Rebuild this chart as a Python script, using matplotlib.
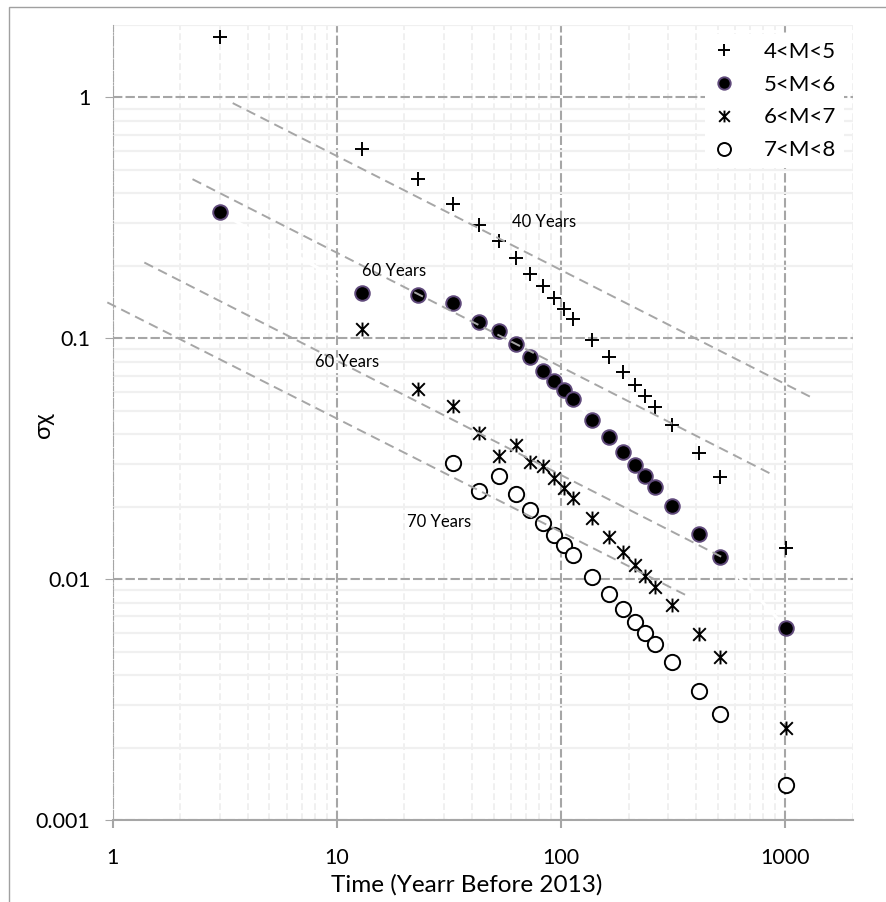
import numpy as np
import matplotlib
matplotlib.use('Agg')
import matplotlib.pyplot as plt
from matplotlib.path import Path
from matplotlib.patches import Rectangle

plt.rcParams['font.family'] = ['Lato', 'DejaVu Sans']

# years before 2013
years = [3, 13, 23, 33, 43, 53, 63, 73, 83, 93, 103, 113, 138, 163, 188, 213,
         238, 263, 313, 413, 513, 1013]

m45 = [1.79, 0.612, 0.46, 0.362, 0.296, 0.254, 0.216, 0.185, 0.165, 0.147,
       0.1326, 0.1205, 0.0986, 0.0836, 0.0726, 0.064, 0.0577, 0.0518, 0.0436,
       0.0334, 0.0265, 0.0135]
m56 = [0.334, 0.154, 0.152, 0.140, 0.1174, 0.1074, 0.0946, 0.0836, 0.0735,
       0.0668, 0.0611, 0.0561, 0.0459, 0.0389, 0.0337, 0.0298, 0.0267, 0.0241,
       0.0202, 0.0154, 0.0124, 0.00626]
m67 = [0.109, 0.0615, 0.0526, 0.0404, 0.0326, 0.0359, 0.0308, 0.0296, 0.0264,
       0.0239, 0.0217, 0.0179, 0.0150, 0.0130, 0.01147, 0.01032, 0.0093,
       0.00782, 0.00593, 0.00477, 0.00242]
m78 = [0.0305, 0.0233, 0.0267, 0.0225, 0.0194, 0.01708, 0.01528, 0.01388,
       0.01262, 0.01025, 0.0087, 0.0075, 0.00663, 0.00597, 0.00538, 0.00452,
       0.00344, 0.00276, 0.0014]

# dashed reference lines (start, end)
trend_x = [(3.43, 1288), (2.27, 854), (1.384, 518), (0.946, 359)]
trend_y = [(0.948, 0.0573), (0.458, 0.0275), (0.2064, 0.0124), (0.141, 0.0086)]

notes = ['40 Years', '60 Years', '60 Years', '70 Years']
note_x = [60.4, 12.9, 8.0, 20.5]
note_y = [0.303, 0.1906, 0.0801, 0.01734]

star = Path([(-1, -1), (1, 1), (-1, 1), (1, -1), (0, -1.1), (0, 1.1)],
            [Path.MOVETO, Path.LINETO, Path.MOVETO, Path.LINETO,
             Path.MOVETO, Path.LINETO])

fig = plt.figure(figsize=(8.86, 9.02), dpi=100)
ax = fig.add_axes([112.7/886, 1-820/902, 740/886, 795/902])

# outer frame of the original chart
fig.add_artist(Rectangle((9/886, -0.1), 1.2, 1.1 - 7/902, transform=fig.transFigure,
                         fill=False, edgecolor='#a0a0a0', lw=1))

ax.set_xscale('log')
ax.set_yscale('log')
ax.set_xlim(1, 2000)
ax.set_ylim(0.001, 2)

ax.set_axisbelow(True)
ax.grid(which='major', axis='both', color='#a6a6a6', lw=1.5, ls=(0, (4.5, 1.5)))
ax.grid(which='minor', axis='x', color='#ededed', lw=1.2, ls=(0, (4, 2)))
ax.grid(which='minor', axis='y', color='#f0f0f0', lw=1.6, ls='-')

# white joining line of the 5<M<6 series
ax.plot(years, m56, color='white', lw=2.2, zorder=1.5)

ax.plot(years, m45, ls='none', marker='+', ms=10, mew=1.4, color='black',
        zorder=3, label='4<M<5')
ax.plot(years, m56, ls='none', marker='o', ms=10.5, mew=1.4, mfc='black',
        mec='#604a7b', zorder=3, label='5<M<6')
ax.plot(years[1:], m67, ls='none', marker=star, ms=10, mew=1.4, mfc='none',
        mec='black', zorder=3, label='6<M<7')
ax.plot(years[3:], m78, ls='none', marker='o', ms=11, mew=1.4, mfc='white',
        mec='black', zorder=3, label='7<M<8')

for tx, ty in zip(trend_x, trend_y):
    ax.plot(tx, ty, color='#a6a6a6', lw=1.4, ls=(0, (5, 3)), zorder=4,
            clip_on=False)

for t, x, y in zip(notes, note_x, note_y):
    ax.text(x, y, t, fontsize=12, ha='left', va='center', zorder=5)

ax.set_xticks([1, 10, 100, 1000])
ax.set_xticklabels(['1', '10', '100', '1000'])
ax.set_yticks([0.001, 0.01, 0.1, 1])
ax.set_yticklabels(['0.001', '0.01', '0.1', '1'])
ax.tick_params(which='minor', length=0)
ax.tick_params(axis='x', which='major', direction='out', length=6, width=1.5,
               color='#a6a6a6', pad=14, labelsize=15.5)
ax.tick_params(axis='y', which='major', direction='out', length=6, width=0.8,
               color='#a6a6a6', pad=10, labelsize=15.5)

for s in ['top', 'right']:
    ax.spines[s].set_visible(False)
ax.spines['bottom'].set_color('#a6a6a6')
ax.spines['bottom'].set_linewidth(1.5)
ax.spines['left'].set_color('#a6a6a6')
ax.spines['left'].set_linewidth(0.8)
ax.spines['left'].set_linestyle(':')

ax.set_xlabel('Time (Yearr Before 2013)', fontsize=17.5)
ax.xaxis.set_label_coords(0.479, -0.082)
ax.xaxis.label.set_va('center')
ax.set_ylabel('σχ', fontsize=17)
ax.yaxis.set_label_coords(-0.093, 0.497)
ax.yaxis.label.set_va('center')

leg = ax.legend(loc='upper right', bbox_to_anchor=(1.0, 1.0), fontsize=16,
                frameon=True, facecolor='white', edgecolor='none', framealpha=1,
                fancybox=False, handlelength=1.0, handletextpad=1.3,
                labelspacing=0.58, borderpad=0.35, borderaxespad=0.4,
                markerscale=0.85)

fig.savefig('out.png', dpi=100)
